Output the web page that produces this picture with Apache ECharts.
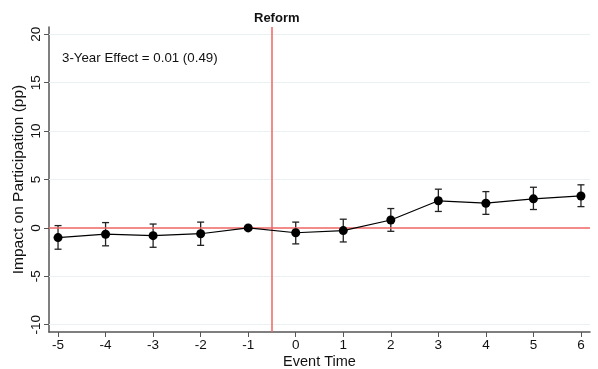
<!DOCTYPE html>
<html><head><meta charset="utf-8">
<script src="https://cdn.jsdelivr.net/npm/echarts@6/dist/echarts.min.js"></script>
<style>html,body{margin:0;padding:0;background:#fff}#c{width:598px;height:369px}</style>
</head><body><div id="c"></div>
<script>
var eventTime = [-5,-4,-3,-2,-1,0,1,2,3,4,5,6];
var estimate  = [-1.0,-0.65,-0.8,-0.6,0,-0.5,-0.28,0.82,2.8,2.55,3.0,3.3];
var ciLow     = [-2.2,-1.85,-2.0,-1.8,null,-1.65,-1.45,-0.35,1.7,1.4,1.9,2.2];
var ciHigh    = [0.24,0.55,0.4,0.6,null,0.6,0.9,2.0,4.0,3.75,4.2,4.45];
var yTicks = [-10,-5,0,5,10,15,20];
var xTicks = [-5,-4,-3,-2,-1,0,1,2,3,4,5,6];
var reformTime = -0.5;
var annotation = '3-Year Effect = 0.01 (0.49)';

var FONT = '"Liberation Sans", Arial, sans-serif';
var chart = echarts.init(document.getElementById('c'), null, {renderer:'canvas'});
var pts = eventTime.map(function(x,i){return [x, estimate[i]];});
var ci = [];
eventTime.forEach(function(x,i){ if(ciLow[i]!==null) ci.push([x, ciLow[i], ciHigh[i]]); });

chart.setOption({
  animation:false,
  title:{text:'Reform', left:249, top:7,
    textStyle:{fontFamily:FONT, fontSize:13, fontWeight:'bold', color:'#111'}},
  grid:{left:49, right:8, top:27, bottom:37, containLabel:false, outerBoundsMode:'none'},
  graphic:[{type:'text', left:62, top:52, style:{text:annotation, font:'13.3px '+FONT, fill:'#111'}}],
  xAxis:{type:'value', min:-5.19, max:6.19,
    name:'Event Time', nameLocation:'middle', nameGap:22, nameMoveOverlap:false,
    nameTextStyle:{fontFamily:FONT, fontSize:14.5, color:'#111'},
    axisLine:{show:true, onZero:false, lineStyle:{color:'#555', width:1.5}},
    axisTick:{show:true, customValues:xTicks, length:5, lineStyle:{color:'#555'}},
    axisLabel:{customValues:xTicks, fontFamily:FONT, fontSize:13.5, color:'#111', margin:6},
    splitLine:{show:false}},
  yAxis:{type:'value', min:-10.75, max:20.75,
    name:'Impact on Participation (pp)', nameLocation:'middle', nameGap:22, nameMoveOverlap:false,
    nameTextStyle:{fontFamily:FONT, fontSize:15.5, color:'#111'},
    axisLine:{show:true, onZero:false, lineStyle:{color:'#555', width:1.5}},
    axisTick:{show:true, customValues:yTicks, length:5, lineStyle:{color:'#555'}},
    axisLabel:{customValues:yTicks, rotate:90, fontFamily:FONT, fontSize:13.5, color:'#111', margin:6},
    splitLine:{show:false}},
  series:[
    {type:'line', data:[], silent:true,
     markLine:{silent:true, symbol:'none', label:{show:false},
       lineStyle:{color:'#e9f1f2', width:1.2, type:'solid'},
       data:yTicks.filter(function(v){return v!==0;}).map(function(v){return {yAxis:v};})}},
    {type:'line', data:[], silent:true, z:3,
     markLine:{silent:true, symbol:'none', label:{show:false},
       lineStyle:{color:'#f06464', width:1.5, type:'solid'},
       data:[{yAxis:0},{xAxis:reformTime}]}},
    {type:'custom', data:ci, z:4, silent:true,
     renderItem:function(params, api){
       var x=api.value(0);
       var lo=api.coord([x, api.value(1)]);
       var hi=api.coord([x, api.value(2)]);
       var w=3.5;
       var st={stroke:'#222', lineWidth:1.3};
       return {type:'group', children:[
         {type:'line', shape:{x1:lo[0],y1:lo[1],x2:hi[0],y2:hi[1]}, style:st},
         {type:'line', shape:{x1:lo[0]-w,y1:lo[1],x2:lo[0]+w,y2:lo[1]}, style:st},
         {type:'line', shape:{x1:hi[0]-w,y1:hi[1],x2:hi[0]+w,y2:hi[1]}, style:st}
       ]};
     }},
    {type:'line', data:pts, z:5, symbol:'circle', symbolSize:9,
     lineStyle:{color:'#000', width:1.2}, itemStyle:{color:'#000'}}
  ]
});
</script></body></html>
